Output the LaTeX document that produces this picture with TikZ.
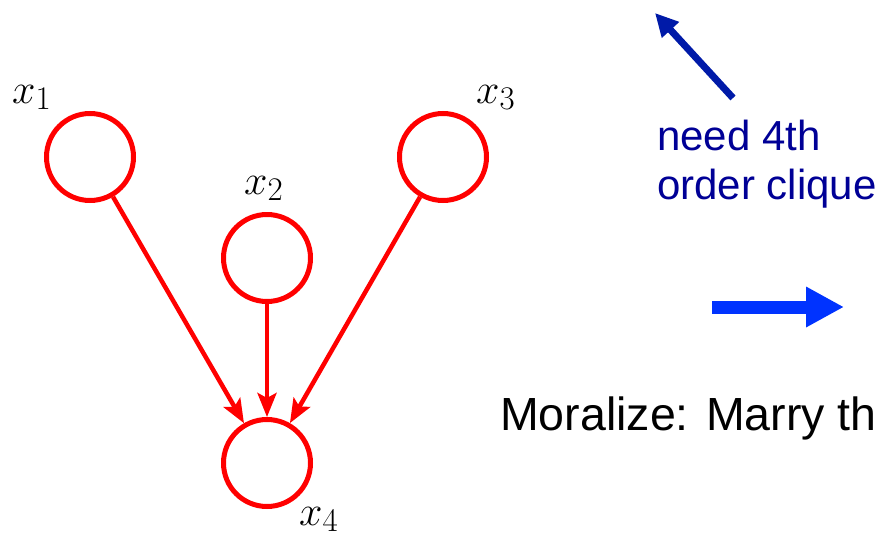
\RequirePackage{fix-cm}
\documentclass[tikz,border=0pt]{standalone}
\usepackage{fontspec}
\newfontfamily\arialfont{Liberation Sans}
\usetikzlibrary{arrows.meta}
\DeclareMathSizes{42}{42}{33}{25}
\definecolor{nodered}{RGB}{255,0,0}
\definecolor{navytext}{RGB}{0,0,150}
\definecolor{darkarrow}{RGB}{0,26,168}
\definecolor{brightarrow}{RGB}{0,51,255}
\begin{document}
\begin{tikzpicture}[x=1pt,y=-1pt,
  var/.style={circle,draw=nodered,line width=5pt,minimum size=87pt,inner sep=0pt},
  lbl/.style={inner sep=0pt,anchor=base west,font=\fontsize{42}{48}\selectfont},
  edge/.style={draw=nodered,line width=4.5pt,-{Stealth[length=24pt,width=19pt,inset=5pt]}},
  bluetext/.style={anchor=base west,inner sep=0pt,text=navytext,font=\arialfont\fontsize{42}{48}\selectfont},
  blacktext/.style={anchor=base west,inner sep=0pt,font=\arialfont\fontsize{46.5}{54}\selectfont}
]
\useasboundingbox (0,0) rectangle (880,538);
% variables
\node[var] (x1) at (90,157) {};
\node[var] (x2) at (267,258) {};
\node[var] (x3) at (443,157) {};
\node[var] (x4) at (267,463) {};
% labels
\node[lbl] (l1) at (12,103) {$x_1$};
\node[lbl] (l2) at (244,194) {$x_2$};
\node[lbl] (l3) at (476,103) {$x_3$};
\node[lbl] (l4) at (299,525) {$x_4$};
% edges
\draw[edge] (x1) -- (x4);
\draw[edge] (x2) -- (x4);
\draw[edge] (x3) -- (x4);
% blue arrows
\coordinate (d0) at (733,98);
\coordinate (d1) at (655,13);
\draw[darkarrow,line width=7pt,-{Triangle[length=23pt,width=22pt]}] (d0) -- (d1);
\coordinate (r0) at (712,307);
\coordinate (r1) at (844,307);
\draw[brightarrow,line width=13pt,-{Triangle[length=38pt,width=38pt]}] (r0) -- (r1);
% texts
\node[bluetext] (need1) at (657,150) {need 4th};
\node[bluetext] (need2) at (657,199) {order clique};
\node[blacktext] (moral) at (500,430) {Moralize: Marry th};
\end{tikzpicture}
\end{document}
